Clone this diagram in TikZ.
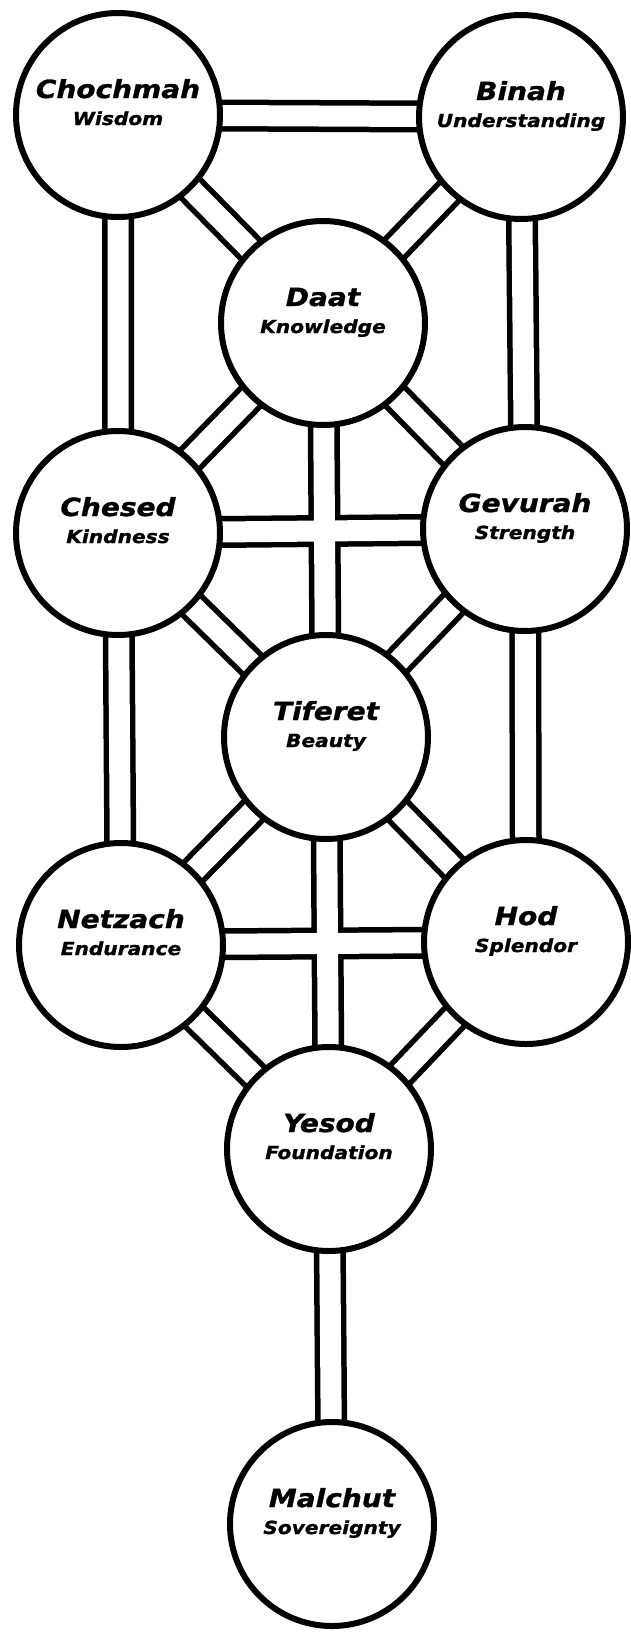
\documentclass[tikz,border=0pt]{standalone}
\usepackage{fontspec}
\newfontfamily\sephfont{DejaVu Sans}[FakeStretch=1.12,FakeBold=1.2]
\usetikzlibrary{backgrounds}

\tikzset{
  sefira/.style={circle,draw,line width=6pt,fill=white,minimum size=204pt,inner sep=0pt},
  sefname/.style={anchor=base,inner sep=0pt,font=\sephfont\bfseries\itshape\fontsize{25}{30}\selectfont},
  sefsub/.style={anchor=base,inner sep=0pt,font=\sephfont\bfseries\itshape\fontsize{18}{22}\selectfont},
  channel/.style={line width=5.5pt,double=white,double distance=21pt}
}

\begin{document}
\begin{tikzpicture}[x=1pt,y=1pt]
  \useasboundingbox (0,0) rectangle (631,-1633);
  % the ten circles with their names
  \foreach \nm/\px/\py/\ttl/\sub in {
      chochmah/118/115/Chochmah/Wisdom,
      binah/521/117/Binah/Understanding,
      daat/323/323/Daat/Knowledge,
      chesed/118/533/Chesed/Kindness,
      gevurah/525/529/Gevurah/Strength,
      tiferet/326/737/Tiferet/Beauty,
      netzach/121/945/Netzach/Endurance,
      hod/526/942/Hod/Splendor,
      yesod/329/1149/Yesod/Foundation,
      malchut/332/1524/Malchut/Sovereignty}{
    \node[sefira] (\nm) at (\px,-\py) {};
    \node[sefname] (\nm-name) at ([yshift=17pt]\nm.center) {\ttl};
    \node[sefsub] (\nm-sub) at ([yshift=-10pt]\nm.center) {\sub};
  }
  % channels, one path so that crossings merge
  \begin{scope}[on background layer]
    \draw[channel]
      (chochmah.center) -- (binah.center)
      (chochmah.center) -- (chesed.center)
      (binah.center) -- (gevurah.center)
      (chochmah.center) -- (daat.center)
      (binah.center) -- (daat.center)
      (daat.center) -- (chesed.center)
      (daat.center) -- (gevurah.center)
      (daat.center) -- (tiferet.center)
      (chesed.center) -- (gevurah.center)
      (chesed.center) -- (tiferet.center)
      (gevurah.center) -- (tiferet.center)
      (chesed.center) -- (netzach.center)
      (gevurah.center) -- (hod.center)
      (tiferet.center) -- (netzach.center)
      (tiferet.center) -- (hod.center)
      (tiferet.center) -- (yesod.center)
      (netzach.center) -- (hod.center)
      (netzach.center) -- (yesod.center)
      (hod.center) -- (yesod.center)
      (yesod.center) -- (malchut.center);
  \end{scope}
\end{tikzpicture}
\end{document}
